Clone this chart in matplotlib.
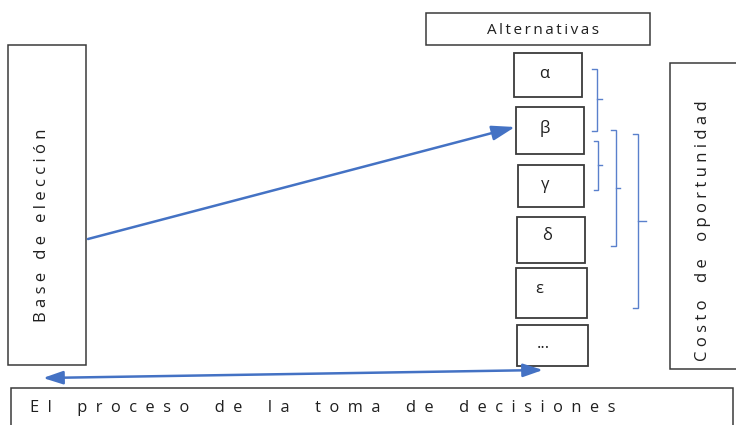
import matplotlib
matplotlib.use("Agg")
import matplotlib.pyplot as plt
from matplotlib.patches import Rectangle, FancyArrowPatch

plt.rcParams["font.family"] = ["Open Sans", "DejaVu Sans"]

# labels
header_label = "Alternativas"
base_label = "Base de elección"
cost_label = "Costo de oportunidad"
process_label = "El proceso de la toma de decisiones"
alt_labels = ["α", "β", "γ", "δ", "ε", "..."]

# geometry in picture pixels (x0, y0, x1, y1), y grows downward
alt_boxes = [(514, 53, 582, 97), (516, 107, 584, 154), (518, 165, 584, 207),
             (517, 217, 585, 263), (516, 268, 587, 318), (517, 325, 588, 366)]
alt_text_pos = [(544, 74), (545, 128), (545, 185), (547, 236), (539, 289), (543, 344)]
header_box = (426, 13, 650, 45)
base_box = (8, 45, 86, 365)
cost_box = (670, 63, 745, 369)
process_box = (11, 388, 733, 440)

# brackets: x, top, bottom, middle, left arm, right tick
brackets = [(597, 69, 131, 99, 5, 5),
            (598, 141, 190, 165, 4, 4),
            (616, 130, 246, 188, 5, 4),
            (638, 134, 308, 221, 5, 8)]

# arrows: start, end
choice_arrow = ((88, 239), (515, 127))
process_arrow = ((43, 378), (543, 370))

W, H = 736, 425
EDGE = "#3a3a3a"
TEXT = "#1f1f1f"
BLUE = "#4472c4"
BRACKET = "#5a80cc"


def spaced(s, gap=" ", word_gap="    "):
    """spread out letters like an expanded character spacing"""
    return word_gap.join(gap.join(w) for w in s.split(" "))


def box(ax, b, lw=1.1):
    x0, y0, x1, y1 = b
    ax.add_patch(Rectangle((x0, y0), x1 - x0, y1 - y0, facecolor="white",
                           edgecolor=EDGE, linewidth=lw))


def bracket(ax, x, top, bot, mid, arm, tick):
    ax.plot([x - arm, x, x, x - arm], [top, top, bot, bot],
            color=BRACKET, linewidth=1.0, solid_joinstyle="miter")
    ax.plot([x, x + tick], [mid, mid], color=BRACKET, linewidth=1.0)


fig = plt.figure(figsize=(W / 100, H / 100), dpi=100)
ax = fig.add_axes([0, 0, 1, 1])
ax.set_xlim(0, W)
ax.set_ylim(H, 0)
ax.axis("off")

box(ax, header_box)
ax.text(543, 30, spaced(header_label, gap="\u2009", word_gap=" "),
        ha="center", va="center", fontsize=11, color=TEXT)

box(ax, base_box)
ax.text(42, 225, spaced(base_label, gap=" ", word_gap="   "), rotation=90,
        ha="center", va="center", fontsize=12, color=TEXT)

box(ax, cost_box)
ax.text(703, 231, spaced(cost_label), rotation=90, ha="center", va="center",
        fontsize=12, color=TEXT)

box(ax, process_box)
ax.text(30, 408, spaced(process_label, gap="  ", word_gap="      "),
        ha="left", va="center", fontsize=11.8, color=TEXT)

for b, lab, (tx, ty) in zip(alt_boxes, alt_labels, alt_text_pos):
    box(ax, b, lw=1.3)
    ax.text(tx, ty, lab, ha="center", va="center", fontsize=12, color=TEXT)

for br in brackets:
    bracket(ax, *br)

ax.add_patch(FancyArrowPatch(choice_arrow[0], choice_arrow[1],
                             arrowstyle="-|>,head_length=1.4,head_width=0.45",
                             mutation_scale=10, color=BLUE, linewidth=1.8,
                             shrinkA=0, shrinkB=0))
ax.add_patch(FancyArrowPatch(process_arrow[0], process_arrow[1],
                             arrowstyle="<|-|>,head_length=1.2,head_width=0.4",
                             mutation_scale=10, color=BLUE, linewidth=1.8,
                             shrinkA=0, shrinkB=0))

fig.savefig("out.png", dpi=100, facecolor="white")
